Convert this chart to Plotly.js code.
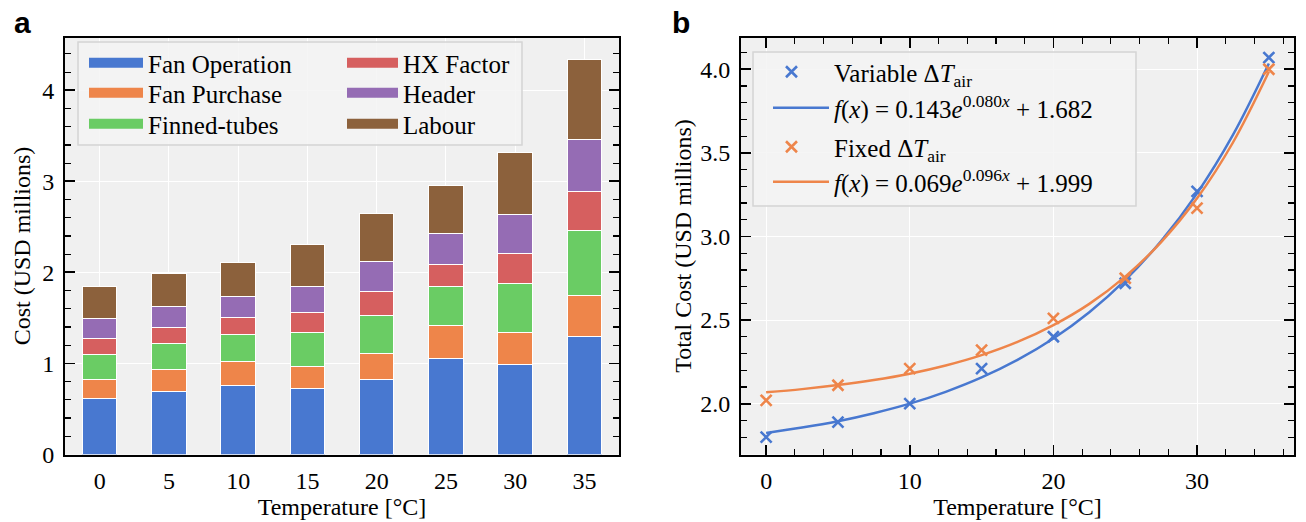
<!DOCTYPE html>
<html>
<head>
<meta charset="utf-8">
<script src="https://cdn.plot.ly/plotly-3.0.1.min.js"></script>
<style>html,body{margin:0;padding:0;background:#fff;}#chart{width:1306px;height:522px;}</style>
</head>
<body>
<div id="chart"></div>
<script>
// ---------- Panel a: stacked cost components ----------
const temperatures = ['0', '5', '10', '15', '20', '25', '30', '35'];
const fanOperation = [0.61, 0.69, 0.76, 0.72, 0.82, 1.05, 0.99, 1.30];
const fanPurchase  = [0.21, 0.24, 0.26, 0.25, 0.29, 0.37, 0.35, 0.45];
const finnedTubes  = [0.28, 0.29, 0.30, 0.37, 0.42, 0.42, 0.54, 0.71];
const hxFactor     = [0.17, 0.18, 0.18, 0.22, 0.26, 0.25, 0.33, 0.43];
const header       = [0.22, 0.23, 0.23, 0.29, 0.33, 0.34, 0.43, 0.57];
const labour       = [0.35, 0.36, 0.38, 0.46, 0.53, 0.52, 0.68, 0.88];

// ---------- Panel b: total cost vs temperature ----------
const tempValues   = [0, 5, 10, 15, 20, 25, 30, 35];
const variableCost = [1.80, 1.89, 2.00, 2.21, 2.40, 2.72, 3.27, 4.07];
const fixedCost    = [2.02, 2.11, 2.21, 2.32, 2.51, 2.75, 3.17, 4.00];
const fitTemps     = [0, 2.5, 5, 7.5, 10, 12.5, 15, 17.5, 20, 22.5, 25, 27.5, 30, 32.5, 35];
const variableFit  = [1.825, 1.857, 1.895, 1.943, 2.000, 2.071, 2.157, 2.262, 2.390, 2.547, 2.739, 2.973, 3.258, 3.607, 4.034];
const fixedFit     = [2.068, 2.087, 2.111, 2.141, 2.179, 2.228, 2.290, 2.369, 2.470, 2.597, 2.760, 2.966, 3.228, 3.562, 3.985];

const seriesNames  = ['Fan Operation', 'Fan Purchase', 'Finned-tubes', 'HX Factor', 'Header', 'Labour'];
const seriesData   = [fanOperation, fanPurchase, finnedTubes, hxFactor, header, labour];
const palette      = ['#4878d0', '#ee854a', '#6acc64', '#d65f5f', '#956cb4', '#8c613c'];
const legendIds    = ['legend', 'legend2', 'legend3', 'legend4', 'legend5', 'legend6'];

const serif = 'Liberation Serif, Times New Roman, serif';
const FS = 24, LFS = 25;
const traces = [];

seriesNames.forEach((name, i) => {
  traces.push({
    type: 'bar', x: temperatures, y: seriesData[i], name: name,
    marker: {color: palette[i], line: {color: '#ffffff', width: 1}},
    width: 0.5, xaxis: 'x', yaxis: 'y', showlegend: false, hoverinfo: 'x+y+name'
  });
});
// legend swatches for panel a
seriesNames.forEach((name, i) => {
  traces.push({
    type: 'scatter', mode: 'lines', x: [null], y: [null], name: name,
    line: {color: palette[i], width: 16}, xaxis: 'x', yaxis: 'y',
    legend: legendIds[i]
  });
});

const blue = palette[0], orange = palette[1];
traces.push({
  type: 'scatter', mode: 'markers', x: tempValues, y: variableCost,
  name: 'Variable Δ<i>T</i><sub>air</sub>',
  marker: {symbol: 'x-thin', size: 11, color: blue, line: {color: blue, width: 2.6}},
  xaxis: 'x2', yaxis: 'y2', legend: 'legend7'
});
traces.push({
  type: 'scatter', mode: 'lines', x: fitTemps, y: variableFit,
  name: '<i>f</i>(<i>x</i>) = 0.143<i>e</i><sup>0.080<i>x</i></sup> + 1.682',
  line: {color: blue, width: 2.5, shape: 'spline', smoothing: 1},
  xaxis: 'x2', yaxis: 'y2', legend: 'legend8'
});
traces.push({
  type: 'scatter', mode: 'markers', x: tempValues, y: fixedCost,
  name: 'Fixed Δ<i>T</i><sub>air</sub>',
  marker: {symbol: 'x-thin', size: 11, color: orange, line: {color: orange, width: 2.6}},
  xaxis: 'x2', yaxis: 'y2', legend: 'legend9'
});
traces.push({
  type: 'scatter', mode: 'lines', x: fitTemps, y: fixedFit,
  name: '<i>f</i>(<i>x</i>) = 0.069<i>e</i><sup>0.096<i>x</i></sup> + 1.999',
  line: {color: orange, width: 2.5, shape: 'spline', smoothing: 1},
  xaxis: 'x2', yaxis: 'y2', legend: 'legend10'
});

const W = 1306, H = 522;
const px = v => v / W, py = v => 1 - v / H;
const axisCommon = {
  showline: true, linecolor: '#000', linewidth: 2, mirror: 'ticks',
  ticks: 'inside', ticklen: 10, tickwidth: 1.8, tickcolor: '#000',
  showgrid: true, gridcolor: '#ffffff', gridwidth: 1, zeroline: false,
  ticklabelstandoff: 4,
  tickfont: {family: serif, size: FS, color: '#000'}
};
const minorTicks = d => ({ticks: 'inside', ticklen: 6, tickwidth: 1.2, tickcolor: '#000', dtick: d, showgrid: false});
const legendAt = (xLeft, yMid, iw) => ({
  x: px(xLeft), y: py(yMid), xanchor: 'left', yanchor: 'middle', orientation: 'v',
  itemwidth: iw, bgcolor: 'rgba(0,0,0,0)', borderwidth: 0,
  font: {family: serif, size: LFS, color: '#000'}
});

const layout = {
  width: W, height: H,
  margin: {l: 0, r: 0, t: 0, b: 0},
  paper_bgcolor: '#ffffff', plot_bgcolor: '#f0f0f0',
  barmode: 'stack',
  font: {family: serif, size: FS, color: '#000'},
  xaxis: Object.assign({}, axisCommon, {
    domain: [px(65), px(619)], type: 'category', range: [-0.5, 7.5],
    ticks: '', mirror: true, anchor: 'y',
    title: {text: 'Temperature [°C]', font: {family: serif, size: FS}, standoff: 0}
  }),
  yaxis: Object.assign({}, axisCommon, {
    domain: [py(454.5), py(37.5)], range: [0, 4.58], dtick: 1, anchor: 'x',
    minor: minorTicks(0.2),
    title: {text: 'Cost (USD millions)', font: {family: serif, size: FS}, standoff: 5}
  }),
  xaxis2: Object.assign({}, axisCommon, {
    domain: [px(741), px(1294)], range: [-1.75, 36.75], dtick: 10, anchor: 'y2',
    minor: minorTicks(2),
    title: {text: 'Temperature [°C]', font: {family: serif, size: FS}, standoff: 0}
  }),
  yaxis2: Object.assign({}, axisCommon, {
    domain: [py(454.5), py(37.5)], range: [1.696, 4.19], dtick: 0.5, tickformat: '.1f', anchor: 'x2',
    minor: minorTicks(0.1),
    title: {text: 'Total Cost (USD millions)', font: {family: serif, size: FS}, standoff: 2}
  }),
  legend:   legendAt(84, 63, 54),
  legend2:  legendAt(84, 93, 54),
  legend3:  legendAt(84, 124, 54),
  legend4:  legendAt(342, 63, 51),
  legend5:  legendAt(342, 93, 51),
  legend6:  legendAt(342, 124, 51),
  legend7:  legendAt(749, 72, 75),
  legend8:  legendAt(768, 108, 56),
  legend9:  legendAt(749, 147, 75),
  legend10: legendAt(768, 182, 56),
  shapes: [
    {type: 'rect', xref: 'paper', yref: 'paper', x0: px(78), x1: px(522), y0: py(145), y1: py(42),
     fillcolor: 'rgba(243,243,243,0.85)', line: {color: '#d4d4d4', width: 1.5}, layer: 'above'},
    {type: 'rect', xref: 'paper', yref: 'paper', x0: px(753), x1: px(1136), y0: py(206), y1: py(52),
     fillcolor: 'rgba(243,243,243,0.85)', line: {color: '#d4d4d4', width: 1.5}, layer: 'above'}
  ],
  annotations: [
    {text: '<b>a</b>', xref: 'paper', yref: 'paper', x: px(22), y: py(22), xanchor: 'center', yanchor: 'middle',
     showarrow: false, font: {family: 'Liberation Sans, Arial, sans-serif', size: 30, color: '#000'}},
    {text: '<b>b</b>', xref: 'paper', yref: 'paper', x: px(681), y: py(22), xanchor: 'center', yanchor: 'middle',
     showarrow: false, font: {family: 'Liberation Sans, Arial, sans-serif', size: 30, color: '#000'}}
  ]
};

Plotly.newPlot('chart', traces, layout, {displayModeBar: false, staticPlot: true});
</script>
</body>
</html>
